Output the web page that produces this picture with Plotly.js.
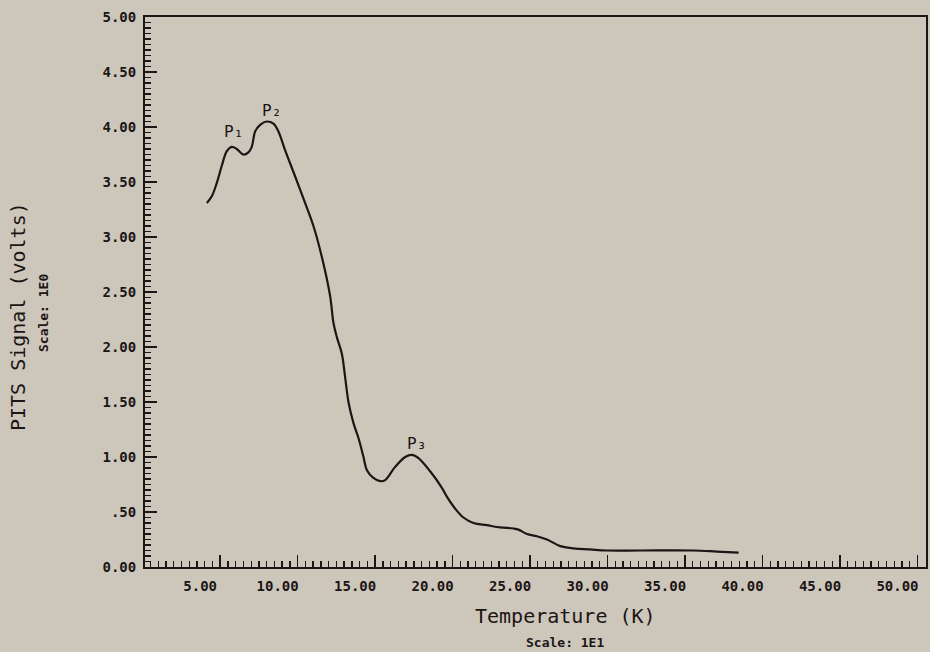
<!DOCTYPE html>
<html>
<head>
<meta charset="utf-8">
<script src="https://cdn.plot.ly/plotly-3.0.1.min.js"></script>
<style>
  html, body { margin: 0; padding: 0; background: #cdc7bb; }
  #chart { width: 930px; height: 652px; }
</style>
</head>
<body>
<div id="chart"></div>
<script>
// PITS spectrum: signal (volts, scale 1E0) versus temperature (K, scale 1E1)
const temperature = [
  4.14, 4.46, 4.78, 5.11, 5.43, 5.75, 6.07, 6.50, 6.82, 7.04,
  7.26, 7.58, 8.01, 8.44, 8.76, 9.19, 9.84, 10.48, 11.02, 11.56,
  12.10, 12.31, 12.53, 12.85, 13.07, 13.28, 13.60, 13.93, 14.25, 14.47,
  14.89, 15.33, 15.65, 16.29, 16.94, 17.37, 17.80, 18.55, 19.31, 19.63,
  20.17, 20.70, 21.35, 22.21, 23.07, 23.93, 24.25, 24.80, 25.44, 26.09,
  26.95, 27.81, 28.88, 29.96, 32.11, 35.55, 37.06, 38.46
];
const signal = [
  3.31, 3.37, 3.49, 3.65, 3.78, 3.82, 3.80, 3.75, 3.77, 3.82,
  3.96, 4.02, 4.05, 4.03, 3.96, 3.79, 3.55, 3.31, 3.10, 2.82,
  2.46, 2.22, 2.09, 1.94, 1.72, 1.50, 1.31, 1.17, 1.00, 0.88,
  0.81, 0.78, 0.79, 0.91, 1.00, 1.02, 0.99, 0.87, 0.72, 0.64,
  0.53, 0.45, 0.40, 0.38, 0.36, 0.35, 0.34, 0.30, 0.28, 0.25,
  0.19, 0.17, 0.16, 0.15, 0.15, 0.15, 0.14, 0.13
];

// axis ticks and their printed labels
const xTickVals = [5, 10, 15, 20, 25, 30, 35, 40, 45, 50];
const xTickText = ["5.00", "10.00", "15.00", "20.00", "25.00", "30.00", "35.00", "40.00", "45.00", "50.00"];
const yTickVals = [0, 0.5, 1, 1.5, 2, 2.5, 3, 3.5, 4, 4.5, 5];
const yTickText = ["0.00", ".50", "1.00", "1.50", "2.00", "2.50", "3.00", "3.50", "4.00", "4.50", "5.00"];
const xMinorStep = 0.5;
const yMinorStep = 0.05;

// peak labels
const peakNames = ["P₁", "P₂", "P₃"];
const peakX = [5.85, 8.33, 17.70];
const peakY = [3.96, 4.15, 1.12];

const ink = "#1c1515";
const paper = "#cdc7bb";
const mono = "DejaVu Sans Mono, monospace";

// evenly spaced minor tick positions between two limits
function steps(lo, hi, step) {
  const out = [];
  const n = Math.round((hi - lo) / step);
  for (let i = 0; i <= n; i++) out.push(+(lo + i * step).toFixed(4));
  return out;
}

const trace = {
  x: temperature,
  y: signal,
  type: "scatter",
  mode: "lines",
  line: { color: ink, width: 2.2, shape: "spline", smoothing: 1 },
  hoverinfo: "skip"
};

const peakNotes = peakNames.map((t, i) => ({
  x: peakX[i], y: peakY[i], xref: "x", yref: "y",
  text: t, showarrow: false,
  font: { family: mono, size: 16, color: ink }
}));

const titleNotes = [
  { text: "Temperature (K)", xref: "paper", yref: "paper", x: 0.538, y: -0.089,
    xanchor: "center", yanchor: "middle", showarrow: false,
    font: { family: mono, size: 20, color: ink } },
  { text: "Scale: 1E1", xref: "paper", yref: "paper", x: 0.538, y: -0.138,
    xanchor: "center", yanchor: "middle", showarrow: false,
    font: { family: mono, size: 13, color: ink, weight: "bold" } },
  { text: "PITS Signal (volts)", xref: "paper", yref: "paper", x: -0.1626, y: 0.4545,
    xanchor: "center", yanchor: "middle", textangle: -90, showarrow: false,
    font: { family: mono, size: 20, color: ink } },
  { text: "Scale: 1E0", xref: "paper", yref: "paper", x: -0.1306, y: 0.4618,
    xanchor: "center", yanchor: "middle", textangle: -90, showarrow: false,
    font: { family: mono, size: 13, color: ink, weight: "bold" } }
];

const layout = {
  width: 930,
  height: 652,
  margin: { l: 145, r: 4, t: 17, b: 85 },
  paper_bgcolor: paper,
  plot_bgcolor: paper,
  showlegend: false,
  xaxis: {
    range: [0.15, 50.55],
    showgrid: false, zeroline: false,
    showline: true, linecolor: ink, linewidth: 2, mirror: true,
    tickmode: "array", tickvals: xTickVals, ticktext: xTickText,
    ticks: "inside", ticklen: 12, tickwidth: 1.5, tickcolor: ink,
    minor: { tickmode: "array", tickvals: steps(0.5, 50.5, xMinorStep),
             ticks: "inside", ticklen: 6, tickwidth: 1.3, tickcolor: ink, showgrid: false },
    tickfont: { family: mono, size: 14, color: ink, weight: "bold" },
    ticklabelshift: -20,
    ticklabelstandoff: 5
  },
  yaxis: {
    range: [0, 5],
    showgrid: false, zeroline: false,
    showline: true, linecolor: ink, linewidth: 2, mirror: true,
    tickmode: "array", tickvals: yTickVals, ticktext: yTickText,
    ticks: "inside", ticklen: 12, tickwidth: 1.5, tickcolor: ink,
    minor: { tickmode: "array", tickvals: steps(0.05, 4.95, yMinorStep),
             ticks: "inside", ticklen: 6, tickwidth: 1.3, tickcolor: ink, showgrid: false },
    tickfont: { family: mono, size: 14, color: ink, weight: "bold" },
    ticklabelstandoff: 4
  },
  annotations: peakNotes.concat(titleNotes)
};

Plotly.newPlot("chart", [trace], layout, { staticPlot: true, displayModeBar: false });
</script>
</body>
</html>
